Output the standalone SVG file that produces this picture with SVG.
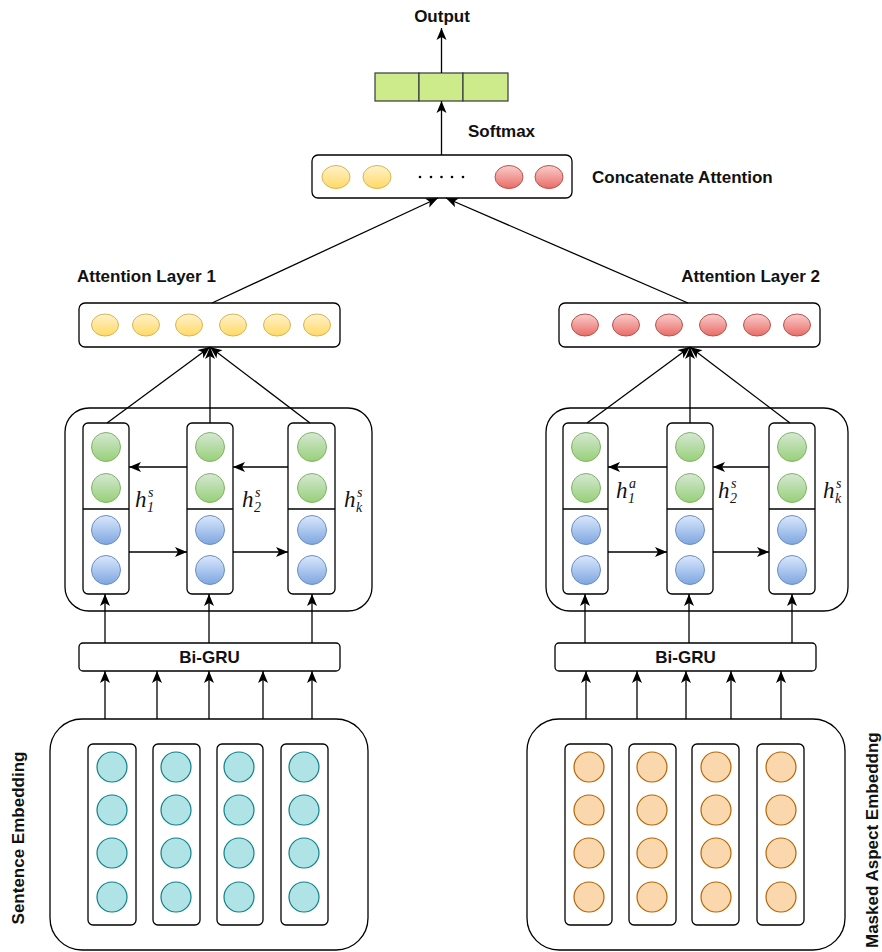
<svg xmlns="http://www.w3.org/2000/svg" width="882" height="952" viewBox="0 0 882 952">
<style>
.box{fill:#fff;stroke:#000;stroke-width:1.3}
.lbl{font-family:"Liberation Sans",Arial,sans-serif;font-weight:bold;font-size:17px;fill:#111}
.yel{fill:url(#gY);stroke:#d6b656;stroke-width:1}
.red{fill:url(#gR);stroke:#b85450;stroke-width:1}
.grn{fill:url(#gG);stroke:#82b366;stroke-width:1}
.blu{fill:url(#gB);stroke:#6c8ebf;stroke-width:1}
.teal{fill:#b0e3e6;stroke:#0e8088;stroke-width:1.2}
.org{fill:#fad7ac;stroke:#b46504;stroke-width:1.2}
.cell{fill:#cdeb8b;stroke:#36393d;stroke-width:1.2}
.math{font-family:"Liberation Serif","DejaVu Serif",serif;font-style:italic;fill:#111}
.conn line{stroke:#000;stroke-width:1.3;fill:none}
.conn .a{marker-end:url(#arr)}
</style>
<defs>
<linearGradient id="gY" x1="0" y1="0" x2="0" y2="1"><stop offset="0" stop-color="#fff2cc"/><stop offset="1" stop-color="#ffd966"/></linearGradient>
<linearGradient id="gR" x1="0" y1="0" x2="0" y2="1"><stop offset="0" stop-color="#f8cecc"/><stop offset="1" stop-color="#ea6b66"/></linearGradient>
<linearGradient id="gG" x1="0" y1="0" x2="0" y2="1"><stop offset="0" stop-color="#d5e8d4"/><stop offset="1" stop-color="#97d077"/></linearGradient>
<linearGradient id="gB" x1="0" y1="0" x2="0" y2="1"><stop offset="0" stop-color="#dae8fc"/><stop offset="1" stop-color="#7ea6e0"/></linearGradient>
<marker id="arr" markerUnits="userSpaceOnUse" markerWidth="14" markerHeight="14" viewBox="0 0 14 14" refX="13" refY="7" orient="auto">
<path d="M1,2 L13,7 L1,12 L4,7 z" fill="#000"/>
</marker>
</defs>

<g id="output-label"><text class="lbl" x="442" y="22" text-anchor="middle">Output</text></g>

<g id="output-vector">
<rect class="cell" x="375" y="73" width="44" height="28"/>
<rect class="cell" x="419" y="73" width="44" height="28"/>
<rect class="cell" x="463" y="73" width="45" height="28"/>
</g>

<g id="softmax-label"><text class="lbl" x="468" y="137">Softmax</text></g>

<g id="concat">
<rect class="box" x="312" y="155" width="260" height="43" rx="6"/>
<ellipse class="yel" cx="336" cy="177" rx="14" ry="11.5"/>
<ellipse class="yel" cx="377" cy="177" rx="14" ry="11.5"/>
<g fill="#000"><circle cx="420" cy="177" r="1.3"/><circle cx="431" cy="177" r="1.3"/><circle cx="441.5" cy="177" r="1.3"/><circle cx="452" cy="177" r="1.3"/><circle cx="463" cy="177" r="1.3"/></g>
<ellipse class="red" cx="509" cy="177" rx="14" ry="11.5"/>
<ellipse class="red" cx="549" cy="177" rx="14" ry="11.5"/>
<text class="lbl" x="592" y="183">Concatenate Attention</text>
</g>

<g id="attention1">
<text class="lbl" x="77" y="282">Attention Layer 1</text>
<rect class="box" x="79" y="303" width="261" height="44" rx="6"/>
<ellipse class="yel" cx="105" cy="325" rx="13.5" ry="11"/>
<ellipse class="yel" cx="146" cy="325" rx="13.5" ry="11"/>
<ellipse class="yel" cx="189" cy="325" rx="13.5" ry="11"/>
<ellipse class="yel" cx="233" cy="325" rx="13.5" ry="11"/>
<ellipse class="yel" cx="277" cy="325" rx="13.5" ry="11"/>
<ellipse class="yel" cx="317" cy="325" rx="13.5" ry="11"/>
</g>

<g id="attention2">
<text class="lbl" x="820" y="282" text-anchor="end">Attention Layer 2</text>
<rect class="box" x="559" y="303" width="261" height="44" rx="6"/>
<ellipse class="red" cx="585" cy="325" rx="13.5" ry="11"/>
<ellipse class="red" cx="626" cy="325" rx="13.5" ry="11"/>
<ellipse class="red" cx="669" cy="325" rx="13.5" ry="11"/>
<ellipse class="red" cx="713" cy="325" rx="13.5" ry="11"/>
<ellipse class="red" cx="757" cy="325" rx="13.5" ry="11"/>
<ellipse class="red" cx="797" cy="325" rx="13.5" ry="11"/>
</g>

<g id="gru1">
<rect class="box" x="65" y="408" width="307" height="203" rx="24"/>
<rect class="box" x="83" y="423" width="46" height="171" rx="5"/>
<rect class="box" x="187" y="423" width="46" height="171" rx="5"/>
<rect class="box" x="288" y="423" width="47" height="171" rx="5"/>
<g stroke="#000" stroke-width="1.3"><line x1="83" y1="509" x2="129" y2="509"/><line x1="187" y1="509" x2="233" y2="509"/><line x1="288" y1="509" x2="335" y2="509"/></g>
<circle class="grn" cx="106" cy="447" r="14.5"/><circle class="grn" cx="106" cy="488" r="14.5"/>
<circle class="blu" cx="106" cy="530" r="14.5"/><circle class="blu" cx="106" cy="570" r="14.5"/>
<circle class="grn" cx="210" cy="447" r="14.5"/><circle class="grn" cx="210" cy="488" r="14.5"/>
<circle class="blu" cx="210" cy="530" r="14.5"/><circle class="blu" cx="210" cy="570" r="14.5"/>
<circle class="grn" cx="312" cy="447" r="14.5"/><circle class="grn" cx="312" cy="488" r="14.5"/>
<circle class="blu" cx="312" cy="530" r="14.5"/><circle class="blu" cx="312" cy="570" r="14.5"/>
<text class="math" x="135" y="507" font-size="23">h</text><text class="math" x="148" y="497" font-size="14">s</text><text class="math" x="147" y="512" font-size="14" font-style="normal">1</text>
<text class="math" x="242" y="507" font-size="23">h</text><text class="math" x="255" y="497" font-size="14">s</text><text class="math" x="254" y="512" font-size="14" font-style="normal">2</text>
<text class="math" x="344" y="507" font-size="23">h</text><text class="math" x="357" y="497" font-size="14">s</text><text class="math" x="356" y="512" font-size="14">k</text>
</g>

<g id="gru2">
<rect class="box" x="546" y="408" width="302" height="203" rx="24"/>
<rect class="box" x="563" y="423" width="45" height="171" rx="5"/>
<rect class="box" x="667" y="423" width="46" height="171" rx="5"/>
<rect class="box" x="769" y="423" width="46" height="171" rx="5"/>
<g stroke="#000" stroke-width="1.3"><line x1="563" y1="509" x2="608" y2="509"/><line x1="667" y1="509" x2="713" y2="509"/><line x1="769" y1="509" x2="815" y2="509"/></g>
<circle class="grn" cx="586" cy="447" r="14.5"/><circle class="grn" cx="586" cy="488" r="14.5"/>
<circle class="blu" cx="586" cy="530" r="14.5"/><circle class="blu" cx="586" cy="570" r="14.5"/>
<circle class="grn" cx="690" cy="447" r="14.5"/><circle class="grn" cx="690" cy="488" r="14.5"/>
<circle class="blu" cx="690" cy="530" r="14.5"/><circle class="blu" cx="690" cy="570" r="14.5"/>
<circle class="grn" cx="792" cy="447" r="14.5"/><circle class="grn" cx="792" cy="488" r="14.5"/>
<circle class="blu" cx="792" cy="530" r="14.5"/><circle class="blu" cx="792" cy="570" r="14.5"/>
<text class="math" x="616" y="498" font-size="23">h</text><text class="math" x="629" y="488" font-size="14">a</text><text class="math" x="628" y="503" font-size="14" font-style="normal">1</text>
<text class="math" x="718" y="498" font-size="23">h</text><text class="math" x="731" y="488" font-size="14">s</text><text class="math" x="730" y="503" font-size="14" font-style="normal">2</text>
<text class="math" x="823" y="498" font-size="23">h</text><text class="math" x="836" y="488" font-size="14">s</text><text class="math" x="835" y="503" font-size="14">k</text>
</g>

<g id="bigru1">
<rect class="box" x="79" y="643" width="261" height="28" rx="4"/>
<text class="lbl" x="209.5" y="663" text-anchor="middle">Bi-GRU</text>
</g>
<g id="bigru2">
<rect class="box" x="555" y="643" width="261" height="28" rx="4"/>
<text class="lbl" x="685.5" y="663" text-anchor="middle">Bi-GRU</text>
</g>

<g id="sentence-embedding">
<rect class="box" x="50" y="719" width="318" height="231" rx="32"/>
<rect class="box" x="88" y="744" width="48" height="181" rx="5"/>
<rect class="box" x="153" y="744" width="47" height="181" rx="5"/>
<rect class="box" x="217" y="744" width="46" height="181" rx="5"/>
<rect class="box" x="281" y="744" width="47" height="181" rx="5"/>
<g class="teal">
<circle cx="112" cy="767" r="15"/><circle cx="112" cy="810" r="15"/><circle cx="112" cy="853" r="15"/><circle cx="112" cy="897" r="15"/>
<circle cx="176" cy="767" r="15"/><circle cx="176" cy="810" r="15"/><circle cx="176" cy="853" r="15"/><circle cx="176" cy="897" r="15"/>
<circle cx="239" cy="767" r="15"/><circle cx="239" cy="810" r="15"/><circle cx="239" cy="853" r="15"/><circle cx="239" cy="897" r="15"/>
<circle cx="304" cy="767" r="15"/><circle cx="304" cy="810" r="15"/><circle cx="304" cy="853" r="15"/><circle cx="304" cy="897" r="15"/>
</g>
<text class="lbl" transform="translate(24,838) rotate(-90)" text-anchor="middle">Sentence Embedding</text>
</g>

<g id="aspect-embedding">
<rect class="box" x="527" y="719" width="318" height="231" rx="32"/>
<rect class="box" x="565" y="744" width="47" height="181" rx="5"/>
<rect class="box" x="629" y="744" width="47" height="181" rx="5"/>
<rect class="box" x="692" y="744" width="47" height="181" rx="5"/>
<rect class="box" x="757" y="744" width="47" height="181" rx="5"/>
<g class="org">
<circle cx="589" cy="767" r="15"/><circle cx="589" cy="810" r="15"/><circle cx="589" cy="853" r="15"/><circle cx="589" cy="897" r="15"/>
<circle cx="652" cy="767" r="15"/><circle cx="652" cy="810" r="15"/><circle cx="652" cy="853" r="15"/><circle cx="652" cy="897" r="15"/>
<circle cx="716" cy="767" r="15"/><circle cx="716" cy="810" r="15"/><circle cx="716" cy="853" r="15"/><circle cx="716" cy="897" r="15"/>
<circle cx="781" cy="767" r="15"/><circle cx="781" cy="810" r="15"/><circle cx="781" cy="853" r="15"/><circle cx="781" cy="897" r="15"/>
</g>
<text class="lbl" transform="translate(878,948) rotate(-90)" font-size="17.5">Masked Aspect Embeddng</text>
</g>

<g id="connectors" class="conn">
<line class="a" x1="441.5" y1="73" x2="441.5" y2="28"/>
<line class="a" x1="441.5" y1="155" x2="441.5" y2="101"/>
<line class="a" x1="212" y1="303" x2="438" y2="198"/>
<line class="a" x1="688" y1="303" x2="446" y2="198"/>
<line class="a" x1="107" y1="423" x2="210" y2="347"/>
<line class="a" x1="210" y1="423" x2="210" y2="347"/>
<line class="a" x1="310" y1="423" x2="210" y2="347"/>
<line class="a" x1="587" y1="423" x2="690" y2="347"/>
<line class="a" x1="690" y1="423" x2="690" y2="347"/>
<line class="a" x1="790" y1="423" x2="690" y2="347"/>
<line class="a" x1="187" y1="467" x2="129" y2="467"/>
<line class="a" x1="288" y1="467" x2="233" y2="467"/>
<line class="a" x1="129" y1="552" x2="187" y2="552"/>
<line class="a" x1="233" y1="552" x2="288" y2="552"/>
<line class="a" x1="667" y1="467" x2="608" y2="467"/>
<line class="a" x1="769" y1="467" x2="713" y2="467"/>
<line class="a" x1="608" y1="552" x2="667" y2="552"/>
<line class="a" x1="713" y1="552" x2="769" y2="552"/>
<line class="a" x1="105" y1="643" x2="105" y2="594"/>
<line class="a" x1="209" y1="643" x2="209" y2="594"/>
<line class="a" x1="312" y1="643" x2="312" y2="594"/>
<line class="a" x1="585" y1="643" x2="585" y2="594"/>
<line class="a" x1="689" y1="643" x2="689" y2="594"/>
<line class="a" x1="792" y1="643" x2="792" y2="594"/>
<line class="a" x1="105" y1="719" x2="105" y2="671"/>
<line class="a" x1="157" y1="719" x2="157" y2="671"/>
<line class="a" x1="209" y1="719" x2="209" y2="671"/>
<line class="a" x1="263" y1="719" x2="263" y2="671"/>
<line class="a" x1="312" y1="719" x2="312" y2="671"/>
<line class="a" x1="586" y1="719" x2="586" y2="671"/>
<line class="a" x1="637" y1="719" x2="637" y2="671"/>
<line class="a" x1="686" y1="719" x2="686" y2="671"/>
<line class="a" x1="731" y1="719" x2="731" y2="671"/>
<line class="a" x1="781" y1="719" x2="781" y2="671"/>
</g>
</svg>
